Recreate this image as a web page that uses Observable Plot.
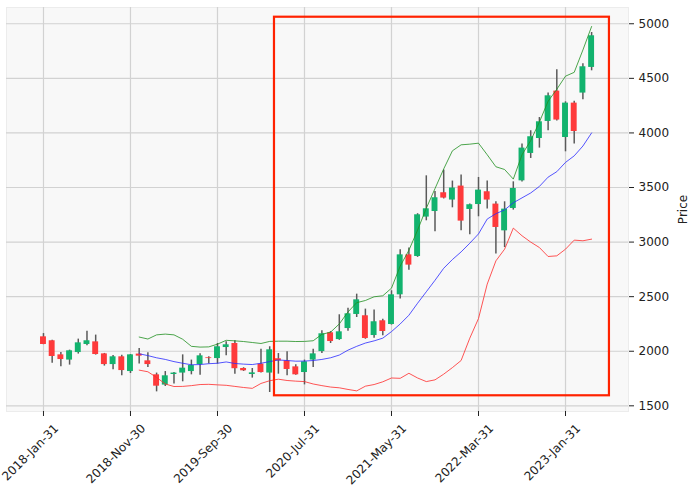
<!DOCTYPE html>
<html><head><meta charset="utf-8">
<script src="https://cdn.jsdelivr.net/npm/d3@7"></script>
<script src="https://cdn.jsdelivr.net/npm/@observablehq/plot@0.6"></script>
<style>
html,body{margin:0;padding:0;background:#ffffff;}
#chart svg{display:block;}
</style>
</head><body><div id="chart"></div>
<script>
// Monthly OHLC, 2018-Jan .. 2023-Apr (index 0..63)
const open  = [2132,2096,1967,1919,1988,2062,2086,1976,1878,1949,1814,1974,1912,1784,1690,1787,1800,1814,1878,1940,1933,2034,2071,1842,1787,1882,1800,1931,1912,1857,1805,1919,1997,2169,2107,2208,2337,2325,2144,2279,2245,2517,2883,2868,3229,3280,3452,3385,3513,3299,3344,3461,3348,3103,3308,3561,3812,3949,4105,4383,3958,4273,4365,4600];
const high  = [2162,2100,1988,2010,2111,2184,2148,1980,1961,1964,1970,2025,1986,1800,1814,1805,1967,1919,1976,1949,2071,2086,2096,1849,1842,2019,2041,1979,1995,1876,1919,2019,2187,2180,2334,2395,2523,2386,2377,2294,2554,2929,2945,3260,3607,3463,3660,3559,3614,3348,3592,3559,3369,3369,3552,3898,4020,4141,4365,4578,4285,4291,4633,4920];
const low   = [2060,1891,1857,1873,1974,2050,1965,1864,1830,1775,1796,1882,1851,1628,1677,1699,1720,1784,1781,1882,1882,1958,1790,1815,1754,1800,1622,1790,1775,1780,1692,1851,1979,2071,2100,2184,2309,2110,2120,2141,2240,2478,2743,2860,3195,3094,3395,3314,3103,3067,3232,3302,2890,2950,3293,3550,3766,3861,4020,4110,3827,3898,4304,4569];
const close = [2062,1952,1924,2004,2077,2096,1970,1878,1949,1823,1967,1955,1878,1680,1775,1800,1845,1869,1958,1933,2041,2059,1840,1821,1802,1805,2013,1912,1833,1784,1903,1976,2160,2089,2178,2343,2471,2117,2270,2181,2517,2883,2789,3250,3305,3406,3403,3495,3192,3342,3476,3385,3134,3302,3491,3861,3965,4102,4340,4118,4273,4013,4606,4890];

// Band lines (start at candle index 11)
const bandStart = 11;
const upper  = [2130,2112,2150,2157,2150,2110,2045,2038,2040,2065,2100,2095,2089,2080,2071,2090,2092,2092,2089,2090,2096,2155,2175,2250,2360,2445,2465,2499,2508,2578,2780,2925,3110,3310,3490,3670,3836,3891,3897,3906,3800,3690,3665,3577,3800,3930,4100,4290,4400,4520,4555,4760,4975];
const middle = [1977,1960,1940,1925,1905,1890,1876,1878,1886,1890,1902,1888,1882,1878,1890,1905,1920,1915,1909,1910,1915,1925,1940,1965,2010,2045,2075,2095,2120,2180,2250,2330,2440,2545,2650,2760,2840,2910,2990,3075,3211,3260,3295,3360,3405,3450,3510,3595,3645,3730,3790,3880,4000];
const lower  = [1827,1812,1760,1700,1677,1678,1685,1695,1697,1692,1688,1678,1668,1660,1705,1730,1744,1732,1726,1722,1700,1685,1672,1665,1650,1637,1680,1695,1720,1755,1752,1798,1755,1722,1738,1790,1850,1915,2120,2300,2615,2828,2935,3128,3058,3000,2950,2868,2874,2935,3018,3012,3027];

// Axis ticks
const xTickIndex  = [0,10,20,30,40,50,60];
const xTickLabels = ["2018-Jan-31","2018-Nov-30","2019-Sep-30","2020-Jul-31","2021-May-31","2022-Mar-31","2023-Jan-31"];
const yTicks = [1500,2000,2500,3000,3500,4000,4500,5000];

// Highlight box (candle index range, price range)
const highlight = [{x1: 26.55, x2: 65.05, y1: 1592, y2: 5060}];

const upColor = "#12b36e", downColor = "#fe3a3b", wickColor = "#5a5a5a";

const candles = open.map((o, i) => ({i, open: o, high: high[i], low: low[i], close: close[i], up: close[i] >= o}));
const bands = upper.map((u, k) => ({i: bandStart + k, upper: u, middle: middle[k], lower: lower[k]}));
const hw = 0.34;

const chart = Plot.plot({
  width: 695,
  height: 497,
  marginLeft: 6,
  marginRight: 67,
  marginTop: 7,
  marginBottom: 86,
  style: {fontFamily: "DejaVu Sans, sans-serif", fontSize: "12px", color: "#222", background: "#ffffff"},
  x: {domain: [-4.25, 67.24]},
  y: {domain: [1448, 5149]},
  marks: [
    Plot.frame({fill: "#f8f8f8", stroke: "#ececec"}),
    Plot.gridY(yTicks, {stroke: "#d2d2d2", strokeOpacity: 1, strokeWidth: 1.2}),
    Plot.gridX(xTickIndex, {stroke: "#d2d2d2", strokeOpacity: 1, strokeWidth: 1.2}),
    Plot.ruleX(candles, {x: "i", y1: "low", y2: "high", stroke: wickColor, strokeWidth: 1.5}),
    Plot.rect(candles.filter(d => d.up), {x1: d => d.i - hw, x2: d => d.i + hw, y1: "open", y2: "close", fill: upColor}),
    Plot.rect(candles.filter(d => !d.up), {x1: d => d.i - hw, x2: d => d.i + hw, y1: "open", y2: "close", fill: downColor}),
    Plot.line(bands, {x: "i", y: "upper", stroke: "#1f8f1f", strokeWidth: 0.8}),
    Plot.line(bands, {x: "i", y: "middle", stroke: "#2a2aff", strokeWidth: 0.8}),
    Plot.line(bands, {x: "i", y: "lower", stroke: "#ff2a2a", strokeWidth: 0.8}),
    Plot.rect(highlight, {x1: "x1", x2: "x2", y1: "y1", y2: "y2", fill: "none", stroke: "#ff2200", strokeWidth: 2.2}),
    Plot.axisY(yTicks, {anchor: "right", tickSize: 5, tickPadding: 5, fontSize: 12, tickFormat: d3.format("d"),
      label: "Price", labelAnchor: "center", labelArrow: "none", labelOffset: 58}),
    Plot.axisX(xTickIndex, {anchor: "bottom", tickSize: 5, tickFormat: () => "", label: null}),
    Plot.axisX(xTickIndex, {anchor: "bottom", tickSize: 0, tickPadding: 15, fontSize: 12, tickRotate: -45, dx: 13,
      tickFormat: i => xTickLabels[xTickIndex.indexOf(i)], label: null})
  ]
});
document.getElementById("chart").appendChild(chart);
</script>
</body></html>
